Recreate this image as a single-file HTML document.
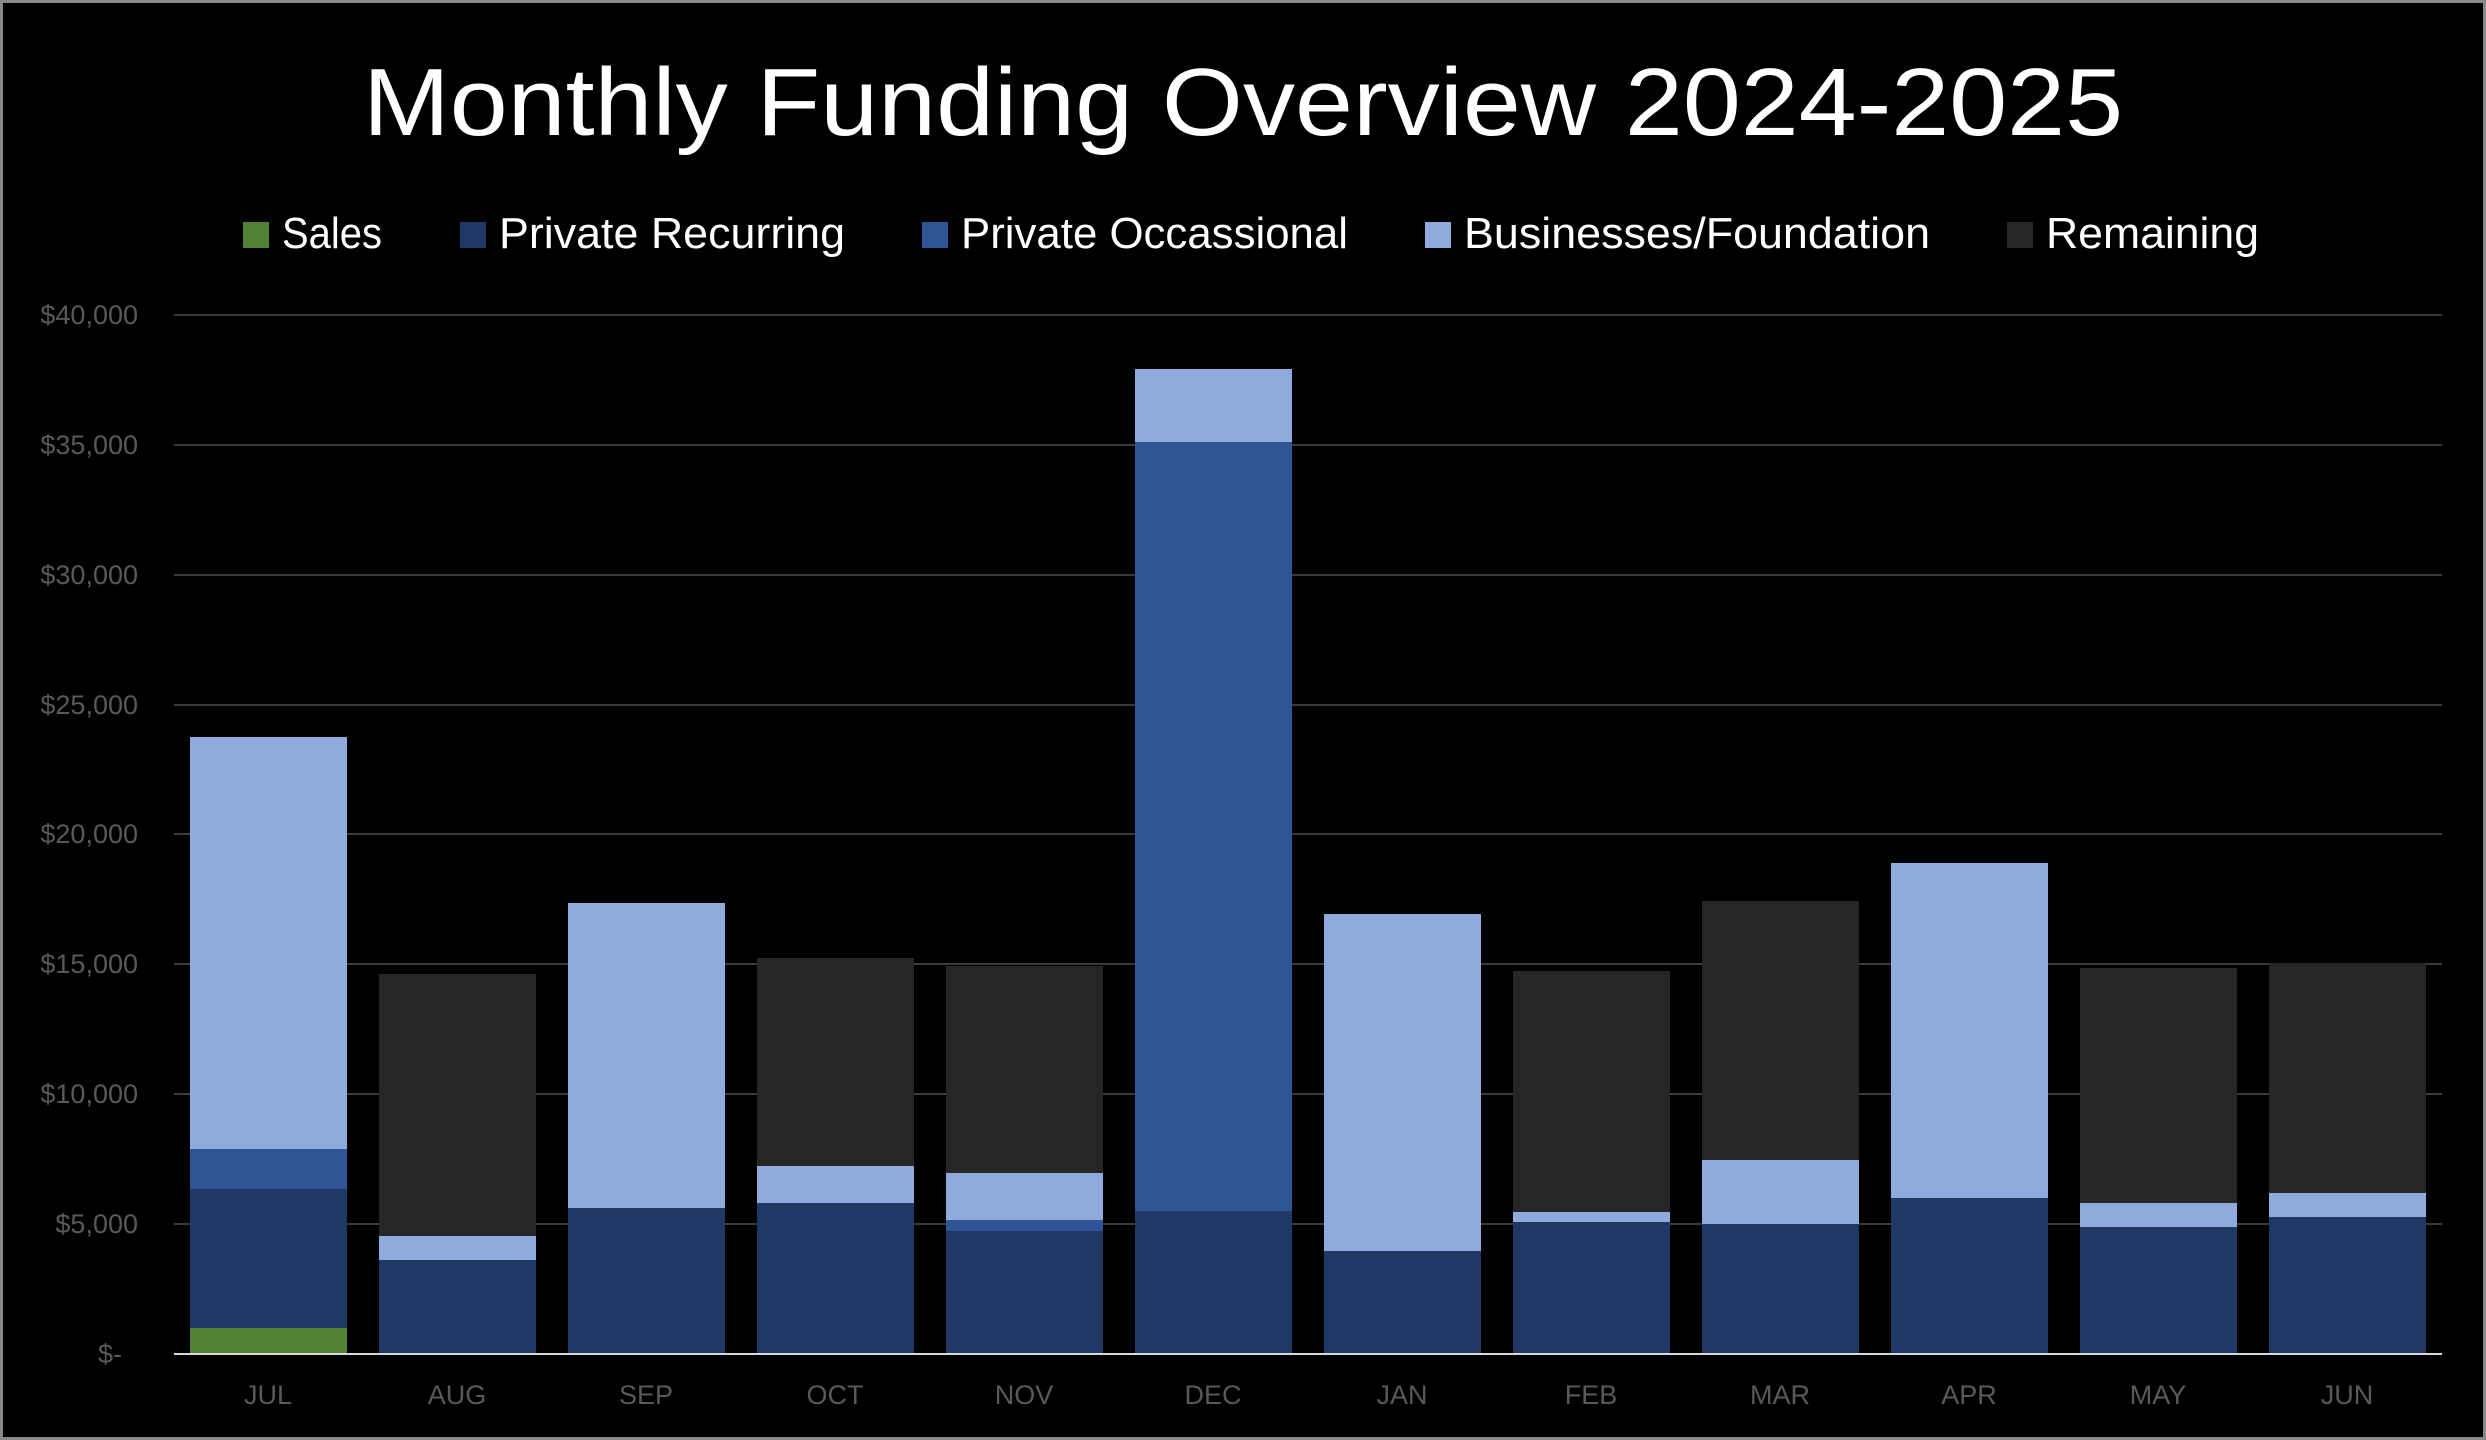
<!DOCTYPE html>
<html><head><meta charset="utf-8"><style>html,body{margin:0;padding:0;background:#000;}svg{display:block}</style></head><body>
<svg width="2486" height="1440" viewBox="0 0 2486 1440" xmlns="http://www.w3.org/2000/svg" font-family="Liberation Sans, sans-serif">
<rect x="0" y="0" width="2486" height="1440" fill="#000"/>
<rect x="1.5" y="1.5" width="2483" height="1437" fill="none" stroke="#8a8a8a" stroke-width="3"/>
<text x="1243" y="135" fill="#fff" font-size="96" text-anchor="middle" textLength="1760" lengthAdjust="spacingAndGlyphs">Monthly Funding Overview 2024-2025</text>
<g font-size="44" fill="#fff">
<rect x="243" y="222" width="26" height="26" fill="#548235"/><text x="282" y="248" textLength="100" lengthAdjust="spacingAndGlyphs">Sales</text>
<rect x="460" y="222" width="26" height="26" fill="#203864"/><text x="499" y="248" textLength="346" lengthAdjust="spacingAndGlyphs">Private Recurring</text>
<rect x="922" y="222" width="26" height="26" fill="#2F5597"/><text x="961" y="248" textLength="387" lengthAdjust="spacingAndGlyphs">Private Occassional</text>
<rect x="1425" y="222" width="26" height="26" fill="#8FAADC"/><text x="1464" y="248" textLength="466" lengthAdjust="spacingAndGlyphs">Businesses/Foundation</text>
<rect x="2007" y="222" width="26" height="26" fill="#262626"/><text x="2046" y="248" textLength="213" lengthAdjust="spacingAndGlyphs">Remaining</text>
</g>
<g stroke="#3a3a3a" stroke-width="2">
<line x1="174" x2="2442" y1="1224" y2="1224"/><line x1="174" x2="2442" y1="1094" y2="1094"/>
<line x1="174" x2="2442" y1="964" y2="964"/><line x1="174" x2="2442" y1="834" y2="834"/>
<line x1="174" x2="2442" y1="705" y2="705"/><line x1="174" x2="2442" y1="575" y2="575"/>
<line x1="174" x2="2442" y1="445" y2="445"/><line x1="174" x2="2442" y1="315" y2="315"/>
</g>
<g font-size="27" fill="#595959" text-anchor="end">
<text x="138" y="324">$40,000</text><text x="138" y="454">$35,000</text><text x="138" y="584">$30,000</text>
<text x="138" y="714">$25,000</text><text x="138" y="843">$20,000</text><text x="138" y="973">$15,000</text>
<text x="138" y="1103">$10,000</text><text x="138" y="1233">$5,000</text><text x="122" y="1363">$-</text>
</g>
<g>
<!-- JUL -->
<rect x="190" y="1328" width="157" height="26" fill="#548235"/>
<rect x="190" y="1189" width="157" height="139" fill="#203864"/>
<rect x="190" y="1149" width="157" height="40" fill="#2F5597"/>
<rect x="190" y="737" width="157" height="412" fill="#8FAADC"/>
<!-- AUG -->
<rect x="379" y="1260" width="157" height="94" fill="#203864"/>
<rect x="379" y="1236" width="157" height="24" fill="#8FAADC"/>
<rect x="379" y="974" width="157" height="262" fill="#262626"/>
<!-- SEP -->
<rect x="568" y="1208" width="157" height="146" fill="#203864"/>
<rect x="568" y="903" width="157" height="305" fill="#8FAADC"/>
<!-- OCT -->
<rect x="757" y="1203" width="157" height="151" fill="#203864"/>
<rect x="757" y="1166" width="157" height="37" fill="#8FAADC"/>
<rect x="757" y="958" width="157" height="208" fill="#262626"/>
<!-- NOV -->
<rect x="946" y="1231" width="157" height="123" fill="#203864"/>
<rect x="946" y="1220" width="157" height="11" fill="#2F5597"/>
<rect x="946" y="1173" width="157" height="47" fill="#8FAADC"/>
<rect x="946" y="966" width="157" height="207" fill="#262626"/>
<!-- DEC -->
<rect x="1135" y="1211" width="157" height="143" fill="#203864"/>
<rect x="1135" y="442" width="157" height="769" fill="#2F5597"/>
<rect x="1135" y="369" width="157" height="73" fill="#8FAADC"/>
<!-- JAN -->
<rect x="1324" y="1251" width="157" height="103" fill="#203864"/>
<rect x="1324" y="914" width="157" height="337" fill="#8FAADC"/>
<!-- FEB -->
<rect x="1513" y="1222" width="157" height="132" fill="#203864"/>
<rect x="1513" y="1212" width="157" height="10" fill="#8FAADC"/>
<rect x="1513" y="971" width="157" height="241" fill="#262626"/>
<!-- MAR -->
<rect x="1702" y="1224" width="157" height="130" fill="#203864"/>
<rect x="1702" y="1160" width="157" height="64" fill="#8FAADC"/>
<rect x="1702" y="901" width="157" height="259" fill="#262626"/>
<!-- APR -->
<rect x="1891" y="1198" width="157" height="156" fill="#203864"/>
<rect x="1891" y="863" width="157" height="335" fill="#8FAADC"/>
<!-- MAY -->
<rect x="2080" y="1227" width="157" height="127" fill="#203864"/>
<rect x="2080" y="1203" width="157" height="24" fill="#8FAADC"/>
<rect x="2080" y="968" width="157" height="235" fill="#262626"/>
<!-- JUN -->
<rect x="2269" y="1217" width="157" height="137" fill="#203864"/>
<rect x="2269" y="1193" width="157" height="24" fill="#8FAADC"/>
<rect x="2269" y="963" width="157" height="230" fill="#262626"/>
</g>
<line x1="174" x2="2442" y1="1354" y2="1354" stroke="#d9d9d9" stroke-width="2"/>
<g font-size="27" fill="#595959" text-anchor="middle">
<text x="268" y="1404">JUL</text><text x="457" y="1404">AUG</text><text x="646" y="1404">SEP</text>
<text x="835" y="1404">OCT</text><text x="1024" y="1404">NOV</text><text x="1213" y="1404">DEC</text>
<text x="1402" y="1404">JAN</text><text x="1591" y="1404">FEB</text><text x="1780" y="1404">MAR</text>
<text x="1969" y="1404">APR</text><text x="2158" y="1404">MAY</text><text x="2347" y="1404">JUN</text>
</g>
</svg>
</body></html>
